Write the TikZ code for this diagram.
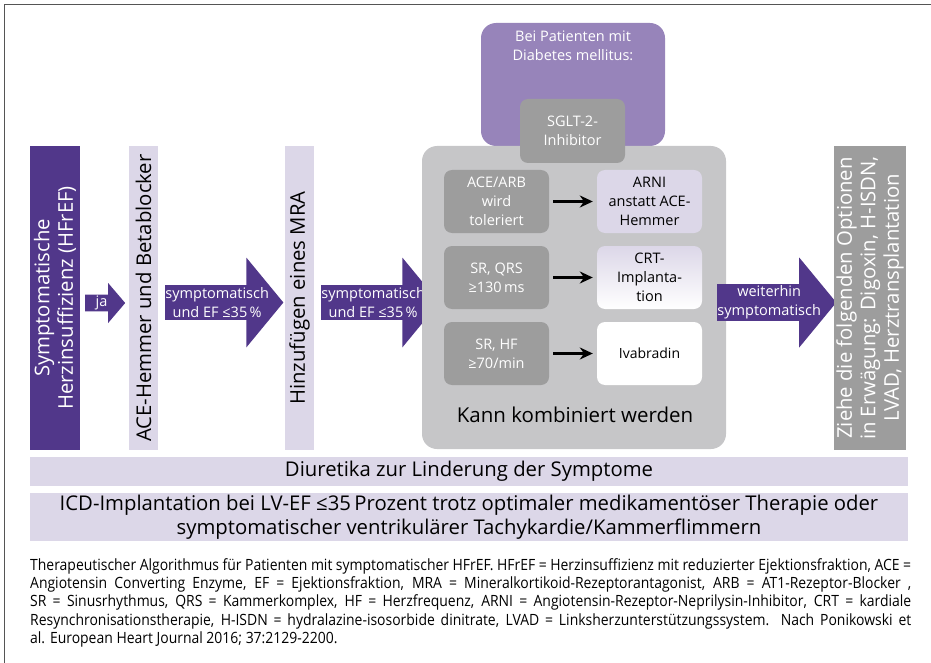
\documentclass[tikz,border=0pt]{standalone}
\usepackage{fontspec}
\setmainfont{Open Sans}
\newfontfamily\capfont[FakeStretch=0.9]{Open Sans}
\usetikzlibrary{shapes.arrows,arrows.meta}

\definecolor{hfpurple}{HTML}{51378A}
\definecolor{hflav}{HTML}{DCD7E8}
\definecolor{hfpanel}{HTML}{C6C6C8}
\definecolor{hfgrey}{HTML}{9D9D9D}
\definecolor{hfviolet}{HTML}{9784BA}
\definecolor{hfframe}{HTML}{555555}

\newcommand\bigfont{\fontsize{20.3}{23.5}\selectfont}
\newcommand\midfont{\fontsize{14.5}{19}\selectfont}

\tikzset{
  upbar/.style={rotate=90, minimum width=304, minimum height=#1, inner sep=0pt, align=center, font=\bigfont},
  fatarrow/.style={single arrow, fill=hfpurple, text=white, minimum width=90, single arrow head extend=24.5,
    single arrow tip angle=101, minimum height=115, inner sep=0pt, anchor=tail, align=center, font=\midfont},
  condbox/.style={fill=hfgrey, text=white, rounded corners=8, minimum width=105, minimum height=63, inner sep=0pt, align=center, font=\midfont},
  resbox/.style={rounded corners=8, minimum width=105, minimum height=63, inner sep=0pt, align=center, font=\midfont},
  band/.style={fill=hflav, minimum width=878, inner sep=0pt, align=center, font=\bigfont},
  thinarrow/.style={-{Stealth[length=13,width=12]}, line width=2.6, shorten <=4, shorten >=4}
}

\begin{document}
\begin{tikzpicture}[x=1pt,y=-1pt]
\useasboundingbox (0,0) rectangle (931,663);
\draw[hfframe, line width=1.5] (4.5,663) -- (4.5,4.5) -- (931,4.5);

% left column
\node[upbar=50, fill=hfpurple, text=white] (hf) at (55,298) {Symptomatische\\Herzinsuffizienz (HFrEF)};
\node[fatarrow, minimum width=40, single arrow head extend=10, single arrow tip angle=99, minimum height=40] (ja) at (85,303) {ja};
\node[upbar=29, fill=hflav] (ace) at (143.5,298) {ACE-Hemmer und Betablocker};
\node[fatarrow] (sym1) at (165,302.5) {symptomatisch\\und EF ≤35\,\%};
\node[upbar=29, fill=hflav] (mra) at (299.5,298) {Hinzufügen eines MRA};
\node[fatarrow] (sym2) at (321,302.5) {symptomatisch\\und EF ≤35\,\%};

% combinable options
\node[fill=hfviolet, rounded corners=15, minimum width=184, minimum height=123, inner sep=0pt] (dm) at (573,84.5) {};
\node[text=white, align=center, font=\midfont, anchor=north] at (573,27) {Bei Patienten mit\\Diabetes mellitus:};
\node[fill=hfpanel, rounded corners=15, minimum width=304, minimum height=303, inner sep=0pt] (combo) at (574,297.5) {};
\node[condbox, minimum height=64] (sglt) at (572.5,131) {SGLT-2-\\Inhibitor};

\node[condbox] (c1) at (496.5,201.5) {ACE/ARB\\wird\\toleriert};
\node[condbox] (c2) at (496.5,277.5) {SR, QRS\\≥130\,ms};
\node[condbox] (c3) at (496.5,353.5) {SR, HF\\≥70/min};
\node[resbox, fill=hflav] (r1) at (649.5,201.5) {ARNI\\anstatt ACE-\\Hemmer};
\node[resbox, top color=hflav, bottom color=white] (r2) at (649.5,277.5) {CRT-\\Implanta-\\tion};
\node[resbox, fill=white, font=\fontsize{14}{18}\selectfont] (r3) at (649.5,353.5) {Ivabradin};
\draw[thinarrow] (c1) -- (r1);
\draw[thinarrow] (c2) -- (r2);
\draw[thinarrow] (c3) -- (r3);
\node[font=\fontsize{20.5}{23}\selectfont] (comb) at (575,415) {Kann kombiniert werden};

% right column
\node[fatarrow] (sym3) at (717,302.5) {weiterhin\\symptomatisch};
\node[upbar=72, fill=hfgrey, text=white] (opt) at (870,298) {Ziehe die folgenden Optionen\\in Erwägung: Digoxin, H-ISDN,\\LVAD, Herztransplantation};

% bands
\node[band, minimum height=29] (diu) at (469,471.5) {Diuretika zur Linderung der Symptome};
\node[band, minimum height=48, font=\fontsize{20.3}{24}\selectfont] (icd) at (469,517) {ICD-Implantation bei LV-EF ≤35\,Prozent trotz optimaler medikamentöser Therapie oder\\symptomatischer ventrikulärer Tachykardie/Kammerflimmern};

% caption
\node[anchor=north west, text width=881, inner sep=0pt, align=justify, font=\capfont\fontsize{15.5}{18.4}\selectfont] (cap) at (30,558)
{Therapeutischer Algorithmus für Patienten mit symptomatischer HFrEF. HFrEF = Herzinsuffizienz mit reduzierter Ejektionsfraktion, ACE =\linebreak
Angiotensin Converting Enzyme, EF = Ejektionsfraktion, MRA = Mineralkortikoid-Rezeptorantagonist, ARB = AT1-Rezeptor-Blocker ,\linebreak
SR = Sinusrhythmus, QRS = Kammerkomplex, HF = Herzfrequenz, ARNI = Angiotensin-Rezeptor-Neprilysin-Inhibitor, CRT = kardiale\linebreak
Resynchronisationstherapie, H-ISDN = hydralazine-isosorbide dinitrate, LVAD = Linksherzunterstützungssystem. Nach Ponikowski et\linebreak
al. European Heart Journal 2016; 37:2129-2200.};
\end{tikzpicture}
\end{document}
